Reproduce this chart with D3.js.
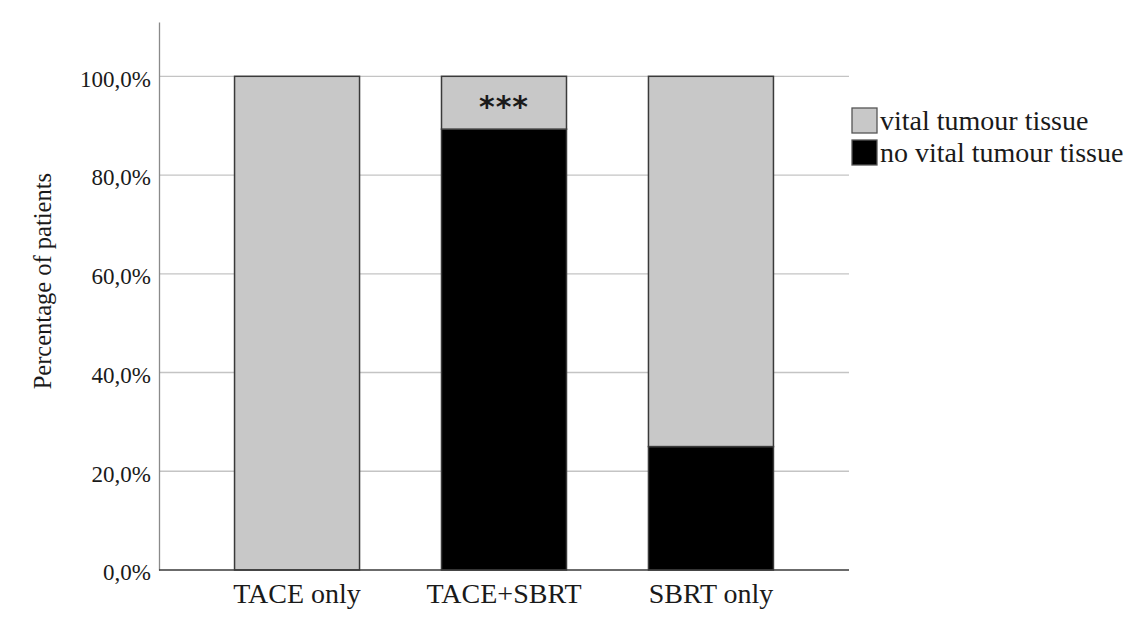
<!DOCTYPE html>
<html>
<head>
<meta charset="utf-8">
<script src="https://cdn.jsdelivr.net/npm/d3@7"></script>
<style>
  html, body { margin: 0; padding: 0; background: #ffffff; }
  svg { display: block; }
  text { font-family: "Liberation Serif", "Times New Roman", serif; fill: #1a1a1a; }
</style>
</head>
<body>
<svg id="chart" width="1132" height="626"></svg>
<script>
// Treatment groups on the x axis
const categories = ["TACE only", "TACE+SBRT", "SBRT only"];
// Percentage of patients with no vital tumour tissue (stacked at the bottom)
const noVitalPct = [0, 89.3, 25];
// Percentage of patients with vital tumour tissue (stacked on top)
const vitalPct = [100, 10.7, 75];
// Series names for the legend
const seriesNames = ["vital tumour tissue", "no vital tumour tissue"];
// Y tick values and significance marker
const yTicks = [0, 20, 40, 60, 80, 100];
const significance = ["", "***", ""];

const svg = d3.select("#chart");
const margin = { left: 159, right: 283, top: 22, bottom: 56 };
const W = 1132, H = 626;
const x0 = margin.left, x1 = W - margin.right;
const yBottom = H - margin.bottom, yTop = margin.top;

const x = d3.scaleBand()
  .domain(categories)
  .range([x0, x1])
  .paddingInner(0.396)
  .paddingOuter(0.365);

const y = d3.scaleLinear()
  .domain([0, 111])
  .range([yBottom, yTop]);

const fmt = v => d3.format(".1f")(v).replace(".", ",") + "%";

// Horizontal gridlines
svg.append("g")
  .selectAll("line")
  .data(yTicks.filter(t => t > 0))
  .join("line")
  .attr("x1", x0).attr("x2", x1)
  .attr("y1", d => y(d)).attr("y2", d => y(d))
  .attr("stroke", "#c4c4c4").attr("stroke-width", 1.3);

// Y axis
const yAxis = svg.append("g")
  .attr("transform", `translate(${x0},0)`)
  .call(d3.axisLeft(y).tickValues(yTicks).tickFormat(fmt).tickSize(0).tickPadding(8));
yAxis.select(".domain").attr("stroke", "#8a8a8a").attr("stroke-width", 1.3);
yAxis.selectAll(".tick text")
  .attr("font-size", 23)
  .attr("dy", "0.43em")
  .style("font-family", "Liberation Serif, serif")
  .attr("fill", "#1a1a1a");

// Stacked data
const rows = categories.map((c, i) => ({ cat: c, none: noVitalPct[i], vital: vitalPct[i] }));
const stack = d3.stack().keys(["none", "vital"])(rows);
const fills = { none: "#000000", vital: "#c8c8c8" };

svg.append("g")
  .selectAll("g")
  .data(stack)
  .join("g")
  .attr("fill", d => fills[d.key])
  .selectAll("rect")
  .data(d => d.filter(s => s[1] - s[0] > 0))
  .join("rect")
  .attr("x", d => x(d.data.cat))
  .attr("width", x.bandwidth())
  .attr("y", d => y(d[1]))
  .attr("height", d => y(d[0]) - y(d[1]))
  .attr("stroke", "#3a3a3a")
  .attr("stroke-width", 1.5);

// X axis baseline
const xAxis = svg.append("g")
  .attr("transform", `translate(0,${yBottom})`)
  .call(d3.axisBottom(x).tickSize(0).tickPadding(13));
xAxis.select(".domain").attr("stroke", "#3a3a3a").attr("stroke-width", 1.5)
  .attr("d", `M${x0},0H${x1}`);
xAxis.selectAll(".tick text")
  .attr("font-size", 28)
  .style("font-family", "Liberation Serif, serif")
  .attr("fill", "#1a1a1a");

// Significance marker
svg.append("g")
  .selectAll("text")
  .data(categories.map((c, i) => ({ cat: c, s: significance[i] })).filter(d => d.s))
  .join("text")
  .attr("x", d => x(d.cat) + x.bandwidth() / 2)
  .attr("y", y(100) + 41)
  .attr("text-anchor", "middle")
  .attr("font-size", 30)
  .attr("font-weight", "bold")
  .style("font-family", "DejaVu Sans, sans-serif")
  .attr("fill", "#27313d")
  .attr("letter-spacing", 1)
  .text(d => d.s);

// Y axis title
svg.append("text")
  .attr("transform", `translate(51,${(y(0) + y(100)) / 2 - 42}) rotate(-90)`)
  .attr("text-anchor", "middle")
  .attr("font-size", 24.5)
  .text("Percentage of patients");

// Legend
const legend = svg.append("g").attr("transform", "translate(852,108)");
const legendFills = [fills.vital, fills.none];
const item = legend.selectAll("g")
  .data(seriesNames)
  .join("g")
  .attr("transform", (d, i) => `translate(0,${i * 32})`);
item.append("rect")
  .attr("width", 25).attr("height", 25)
  .attr("fill", (d, i) => legendFills[i])
  .attr("stroke", "#555").attr("stroke-width", 1.3);
item.append("text")
  .attr("x", 28).attr("y", 22)
  .attr("font-size", 28)
  .text(d => d);
</script>
</body>
</html>
